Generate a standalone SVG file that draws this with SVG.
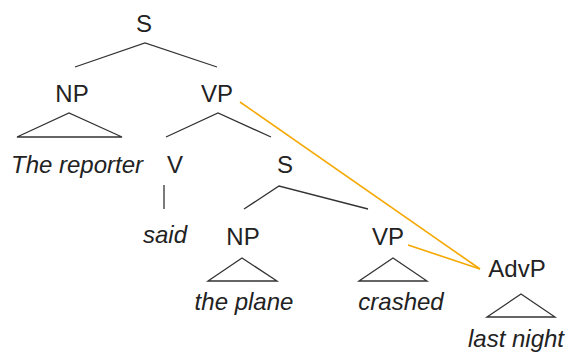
<svg xmlns="http://www.w3.org/2000/svg" width="569" height="358" viewBox="0 0 569 358">
  <style>
    text { font-family: "Liberation Sans", Arial, sans-serif; font-size: 24px; fill: #222; text-anchor: middle; }
    .leaf { font-style: italic; }
    .edge { stroke: #333; stroke-width: 1.3; fill: none; }
    .move { stroke: #f5a800; stroke-width: 1.6; fill: none; }
  </style>
  <rect width="569" height="358" fill="#fff"/>

  <!-- tree branches -->
  <g id="connectors">
    <polyline class="edge" points="75,67 145,43 217,67"/>
    <polygon class="edge" points="17,137 69,113 122,137"/>
    <polyline class="edge" points="166,137 218,113 271,137"/>
    <line class="edge" x1="164" y1="185" x2="164" y2="209"/>
    <polyline class="edge" points="244,209 279,186 368,209"/>
    <polygon class="edge" points="208,281 242,258 277,281"/>
    <polygon class="edge" points="359,281 393,258 427,281"/>
    <polygon class="edge" points="487,317 521,294 555,317"/>
    <!-- adjunction lines to AdvP -->
    <line class="move" x1="240" y1="102" x2="480" y2="269"/>
    <line class="move" x1="408" y1="245" x2="480" y2="269"/>
  </g>

  <g id="s-root"><text x="144" y="32">S</text></g>
  <g id="np-subj"><text x="72" y="102">NP</text></g>
  <g id="vp-main"><text x="217" y="102">VP</text></g>
  <g id="leaf-reporter"><text class="leaf" x="77" y="173">The reporter</text></g>
  <g id="v"><text x="175" y="173">V</text></g>
  <g id="s-emb"><text x="285" y="173">S</text></g>
  <g id="leaf-said"><text class="leaf" x="165" y="243">said</text></g>
  <g id="np-emb"><text x="243" y="245">NP</text></g>
  <g id="vp-emb"><text x="388" y="245">VP</text></g>
  <g id="advp"><text x="517" y="277">AdvP</text></g>
  <g id="leaf-plane"><text class="leaf" x="244" y="310">the plane</text></g>
  <g id="leaf-crashed"><text class="leaf" x="401" y="310">crashed</text></g>
  <g id="leaf-lastnight"><text class="leaf" x="516" y="347">last night</text></g>
</svg>
